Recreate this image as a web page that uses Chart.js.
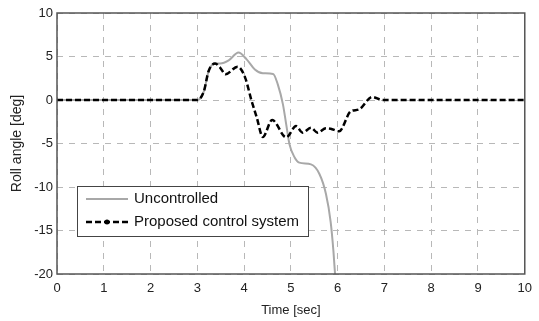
<!DOCTYPE html>
<html>
<head>
<meta charset="utf-8">
<script src="https://cdn.jsdelivr.net/npm/chart.js@4"></script>
<style>
    html, body { margin: 0; padding: 0; background: #fff; }
    #wrap { width: 539px; height: 321px; }
</style>
</head>
<body>
<div id="wrap"><canvas id="rollChart" width="539" height="321"></canvas></div>
<script>
// data
const timeUncontrolled = [0, 3.0, 3.14, 3.24, 3.38, 3.49, 3.67, 3.88, 4.05, 4.23, 4.4, 4.62, 4.72, 4.83, 4.9, 4.97, 5.08, 5.18, 5.43, 5.61, 5.75, 5.85, 5.91, 5.95];
const rollUncontrolled = [0, 0, 1.0, 3.3, 4.2, 4.2, 4.55, 5.45, 4.7, 3.5, 3.07, 3.0, 1.8, -0.5, -2.8, -5.1, -6.6, -7.2, -7.4, -8.5, -10.8, -14.0, -17.4, -20.5];

const timeControlled = [0, 3.0, 3.14, 3.24, 3.38, 3.49, 3.6, 3.86, 4.02, 4.16, 4.27, 4.4, 4.6, 4.9, 5.11, 5.25, 5.43, 5.57, 5.75, 5.85, 6.03, 6.28, 6.45, 6.74, 6.95, 10];
const rollControlled = [0, 0, 1.0, 3.3, 4.2, 3.7, 2.95, 3.83, 2.6, -0.1, -2.0, -4.25, -2.3, -4.3, -3.0, -3.75, -3.2, -3.75, -3.25, -3.3, -3.6, -1.3, -1.1, 0.35, 0, 0];

const xTicks = [0, 1, 2, 3, 4, 5, 6, 7, 8, 9, 10];
const yTicks = [-20, -15, -10, -5, 0, 5, 10];

const legendLabels = ["Uncontrolled", "Proposed control system"];

function toPoints(xs, ys) {
    return xs.map((x, i) => ({ x: x, y: ys[i] }));
}

const tickFont = { family: "'Liberation Sans', Arial, sans-serif", size: 13 };

// legend box inside the plot, lower left
const boxLegend = {
    id: "boxLegend",
    afterDraw(chart) {
        const c = chart.ctx;
        const x0 = 77, y0 = 186, w = 231, h = 50;
        c.save();
        c.fillStyle = "#fff";
        c.fillRect(x0, y0, w, h);
        c.strokeStyle = "#444";
        c.lineWidth = 1;
        c.strokeRect(x0 + 0.5, y0 + 0.5, w, h);

        // uncontrolled sample
        c.strokeStyle = "#a8a8a8";
        c.lineWidth = 2;
        c.beginPath();
        c.moveTo(86, 199);
        c.lineTo(128, 199);
        c.stroke();

        // controlled sample
        c.strokeStyle = "#000";
        c.lineWidth = 2.5;
        c.setLineDash([6, 3]);
        c.beginPath();
        c.moveTo(86, 222);
        c.lineTo(128, 222);
        c.stroke();
        c.setLineDash([]);
        c.fillStyle = "#000";
        c.beginPath();
        c.arc(107, 222, 2.5, 0, Math.PI * 2);
        c.fill();

        c.fillStyle = "#111";
        c.font = "15px 'Liberation Sans', Arial, sans-serif";
        c.textBaseline = "middle";
        c.fillText(legendLabels[0], 134, 199);
        c.fillText(legendLabels[1], 134, 222);
        c.restore();
    }
};

// solid box round the plot area
const frame = {
    id: "frame",
    afterDatasetsDraw(chart) {
        const a = chart.chartArea;
        const c = chart.ctx;
        c.save();
        c.strokeStyle = "#555";
        c.lineWidth = 1.5;
        c.strokeRect(a.left, a.top, a.right - a.left, a.bottom - a.top);
        c.restore();
    }
};

const ctx = document.getElementById("rollChart").getContext("2d");
const rollChart = new Chart(ctx, {
    type: "line",
    data: {
        datasets: [
            {
                label: legendLabels[0],
                data: toPoints(timeUncontrolled, rollUncontrolled),
                borderColor: "#a8a8a8",
                borderWidth: 2,
                pointRadius: 0,
                order: 2,
                cubicInterpolationMode: "monotone"
            },
            {
                label: legendLabels[1],
                data: toPoints(timeControlled, rollControlled),
                borderColor: "#000",
                borderWidth: 2.5,
                borderDash: [6, 3],
                pointRadius: 0,
                order: 1,
                cubicInterpolationMode: "monotone"
            }
        ]
    },
    options: {
        responsive: false,
        animation: false,
        layout: { padding: { top: 13, right: 10, left: 0, bottom: 0 } },
        plugins: {
            legend: { display: false },
            tooltip: { enabled: false }
        },
        scales: {
            x: {
                type: "linear",
                min: 0,
                max: 10,
                afterFit: (s) => { s.height = 47; },
                afterBuildTicks: (s) => { s.ticks = xTicks.map(v => ({ value: v })); },
                grid: { color: "#b8b8b8", lineWidth: 1, drawTicks: false },
                border: { display: false, dash: [6, 6] },
                ticks: { color: "#222", padding: 7, font: tickFont },
                title: {
                    display: true,
                    text: "Time [sec]",
                    color: "#222",
                    padding: { top: 0, bottom: 3 },
                    font: tickFont
                }
            },
            y: {
                min: -20,
                max: 10,
                afterFit: (s) => { s.width = 57; },
                afterBuildTicks: (s) => { s.ticks = yTicks.map(v => ({ value: v })); },
                grid: { color: "#b8b8b8", lineWidth: 1, drawTicks: false },
                border: { display: false, dash: [6, 6] },
                ticks: { color: "#222", padding: 4, font: tickFont },
                title: {
                    display: true,
                    text: "Roll angle [deg]",
                    color: "#222",
                    padding: { top: 9, bottom: 0 },
                    font: { family: "'Liberation Sans', Arial, sans-serif", size: 14 }
                }
            }
        }
    },
    plugins: [frame, boxLegend]
});
</script>
</body>
</html>
